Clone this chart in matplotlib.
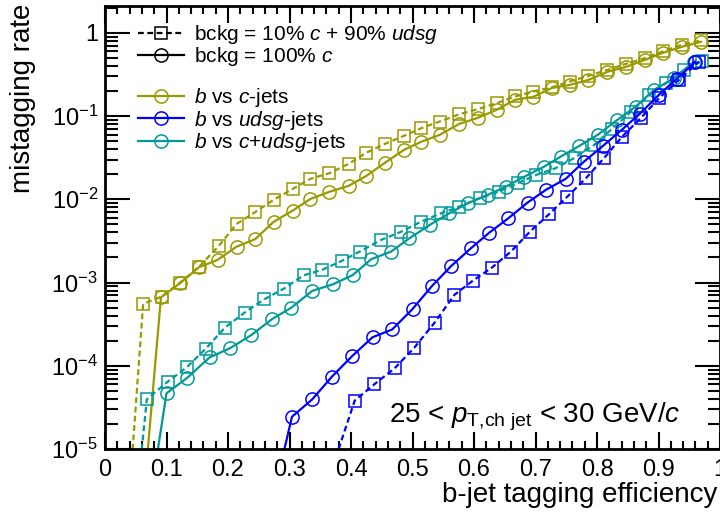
import math

import matplotlib.pyplot as plt
from matplotlib.lines import Line2D
from matplotlib.ticker import FixedLocator, FuncFormatter, LogLocator, MultipleLocator, NullFormatter

plt.rcParams["font.family"] = ["Liberation Sans", "DejaVu Sans"]
plt.rcParams["mathtext.fontset"] = "custom"
plt.rcParams["mathtext.rm"] = "Liberation Sans"
plt.rcParams["mathtext.it"] = "Liberation Sans:italic"
plt.rcParams["mathtext.bf"] = "Liberation Sans:bold"

OLIVE = "#999900"
BLUE = "#0000ff"
TEAL = "#009999"

# b vs c-jets
eff_c_mix = [0.032, 0.062, 0.092, 0.122, 0.153, 0.185, 0.214, 0.244, 0.274, 0.305, 0.334,
             0.365, 0.396, 0.425, 0.455, 0.486, 0.514, 0.544, 0.576, 0.606, 0.637, 0.667,
             0.696, 0.727, 0.756, 0.786, 0.817, 0.847, 0.878, 0.907, 0.938, 0.969]
mis_c_mix = [4.7e-7, 5.53e-4, 6.78e-4, 9.98e-4, 1.55e-3, 2.75e-3, 5.06e-3, 7.0e-3, 9.84e-3,
             1.33e-2, 1.76e-2, 2.06e-2, 2.66e-2, 3.63e-2, 4.63e-2, 5.78e-2, 7.14e-2, 8.59e-2,
             0.105, 0.121, 0.143, 0.172, 0.197, 0.222, 0.260, 0.304, 0.359, 0.424, 0.497,
             0.597, 0.718, 0.809]
eff_c_charm = [0.062, 0.091, 0.122, 0.153, 0.183, 0.214, 0.244, 0.274, 0.305, 0.334, 0.365,
               0.396, 0.425, 0.455, 0.486, 0.514, 0.544, 0.576, 0.606, 0.637, 0.667, 0.696,
               0.727, 0.756, 0.786, 0.817, 0.847, 0.878, 0.907, 0.938, 0.969]
mis_c_charm = [2.2e-6, 6.65e-4, 9.8e-4, 1.53e-3, 1.87e-3, 2.70e-3, 3.31e-3, 5.35e-3, 7.31e-3,
               1.01e-2, 1.23e-2, 1.45e-2, 1.91e-2, 2.74e-2, 3.92e-2, 4.90e-2, 5.94e-2, 8.05e-2,
               9.5e-2, 0.119, 0.157, 0.170, 0.218, 0.237, 0.272, 0.340, 0.390, 0.473, 0.575,
               0.679, 0.780]

# b vs udsg-jets
eff_l_mix = [0.375, 0.406, 0.438, 0.471, 0.503, 0.536, 0.568, 0.598, 0.629, 0.660, 0.691,
             0.722, 0.752, 0.782, 0.812, 0.841, 0.871, 0.901, 0.933, 0.966]
mis_l_mix = [7.8e-6, 3.81e-5, 6.0e-5, 9.33e-5, 1.65e-4, 3.30e-4, 7.10e-4, 1.05e-3, 1.51e-3,
             2.35e-3, 4.09e-3, 6.62e-3, 1.08e-2, 1.79e-2, 3.16e-2, 5.68e-2, 9.42e-2, 0.164,
             0.272, 0.452]
eff_l_charm = [0.271, 0.304, 0.337, 0.369, 0.402, 0.435, 0.467, 0.500, 0.532, 0.563, 0.595,
               0.625, 0.656, 0.687, 0.717, 0.749, 0.779, 0.810, 0.840, 0.870, 0.900, 0.930,
               0.960]
mis_l_charm = [2.2e-6, 2.44e-5, 3.95e-5, 7.40e-5, 1.31e-4, 2.20e-4, 2.73e-4, 4.80e-4, 9.14e-4,
               1.58e-3, 2.58e-3, 3.98e-3, 5.93e-3, 9.12e-3, 1.30e-2, 1.76e-2, 2.84e-2, 4.4e-2,
               6.8e-2, 0.107, 0.178, 0.282, 0.447]

# b vs c+udsg-jets
eff_cl_mix = [0.037, 0.068, 0.102, 0.133, 0.164, 0.195, 0.227, 0.259, 0.291, 0.323, 0.353,
              0.385, 0.414, 0.449, 0.482, 0.514, 0.547, 0.576, 0.609, 0.641, 0.671, 0.701,
              0.733, 0.764, 0.795, 0.825, 0.855, 0.885, 0.912, 0.942, 0.970]
mis_cl_mix = [2.2e-7, 3.95e-5, 6.44e-5, 9.59e-5, 1.61e-4, 2.87e-4, 4.35e-4, 6.30e-4, 8.45e-4,
              1.22e-3, 1.42e-3, 1.82e-3, 2.35e-3, 3.25e-3, 4.09e-3, 5.40e-3, 6.81e-3, 8.17e-3,
              1.03e-2, 1.24e-2, 1.56e-2, 1.96e-2, 2.37e-2, 3.16e-2, 4.47e-2, 7.08e-2, 0.112,
              0.178, 0.248, 0.359, 0.457]
eff_cl_charm = [0.067, 0.100, 0.134, 0.170, 0.203, 0.238, 0.272, 0.303, 0.337, 0.371, 0.403,
                0.433, 0.465, 0.495, 0.528, 0.560, 0.590, 0.622, 0.652, 0.682, 0.714, 0.741,
                0.771, 0.801, 0.833, 0.863, 0.893, 0.925, 0.958]
mis_cl_charm = [1.2e-6, 4.67e-5, 7.19e-5, 1.26e-4, 1.62e-4, 2.34e-4, 3.65e-4, 4.99e-4, 7.93e-4,
                9.55e-4, 1.23e-3, 1.91e-3, 2.35e-3, 3.40e-3, 4.92e-3, 6.81e-3, 8.97e-3, 1.13e-2,
                1.42e-2, 1.87e-2, 2.47e-2, 3.26e-2, 4.37e-2, 5.94e-2, 8.99e-2, 0.130, 0.207,
                0.285, 0.452]

y_ticks = [1e-5, 1e-4, 1e-3, 1e-2, 1e-1, 1]
x_ticks = [0, 0.1, 0.2, 0.3, 0.4, 0.5, 0.6, 0.7, 0.8, 0.9, 1.0]

series = [
    (eff_c_mix, mis_c_mix, eff_c_charm, mis_c_charm, OLIVE),
    (eff_cl_mix, mis_cl_mix, eff_cl_charm, mis_cl_charm, TEAL),
    (eff_l_mix, mis_l_mix, eff_l_charm, mis_l_charm, BLUE),
]


def y_label(v, pos):
    if v == 1:
        return "1"
    return rf"$10^{{{int(round(math.log10(v)))}}}$"


fig = plt.figure(figsize=(7.2, 5.23), dpi=100)
ax = fig.add_axes([105 / 720, 74 / 523, 615 / 720, 443 / 523])

dash = (0, (2.6, 1.6))
for x_mix, y_mix, x_charm, y_charm, color in series:
    ax.plot(x_mix, y_mix, linestyle=dash, lw=1.6, color=color, marker="s", ms=9,
            mfc="none", mec=color, mew=1.1)
    ax.plot(x_charm, y_charm, linestyle="-", lw=1.6, color=color, marker="o", ms=9.5,
            mfc="none", mec=color, mew=1.1)

ax.set_yscale("log")
ax.set_xlim(0, 1.0)
ax.set_ylim(1e-5, 2.1)

ax.xaxis.set_major_locator(FixedLocator(x_ticks))
ax.xaxis.set_minor_locator(MultipleLocator(0.02))
ax.xaxis.set_major_formatter(FuncFormatter(lambda v, p: f"{v:g}"))
ax.yaxis.set_major_locator(FixedLocator(y_ticks))
ax.yaxis.set_minor_locator(LogLocator(base=10, subs=range(2, 10), numticks=20))
ax.yaxis.set_minor_formatter(NullFormatter())
ax.yaxis.set_major_formatter(FuncFormatter(y_label))

ax.tick_params(which="both", direction="in", top=True, right=True, width=1.5, labelsize=17)
ax.tick_params(axis="x", which="major", length=12, pad=7)
ax.tick_params(axis="x", which="minor", length=6)
ax.tick_params(axis="y", which="major", length=18, pad=5)
ax.tick_params(axis="y", which="minor", length=9)
for sp in ax.spines.values():
    sp.set_linewidth(2)

ax.set_xlabel("b-jet tagging efficiency", fontsize=20, ha="right")
ax.xaxis.set_label_coords(0.995, -0.075)
ax.set_ylabel("mistagging rate", fontsize=20, ha="right")
ax.yaxis.set_label_coords(-0.112, 1.005)

handles = [
    Line2D([], [], color="black", linestyle=dash, lw=1.6, marker="s", ms=9, mfc="none", mew=1.1),
    Line2D([], [], color="black", linestyle="-", lw=1.6, marker="o", ms=9.5, mfc="none", mew=1.1),
    Line2D([], [], linestyle="none"),
    Line2D([], [], color=OLIVE, lw=1.6, marker="o", ms=9.5, mfc="none", mew=1.1),
    Line2D([], [], color=BLUE, lw=1.6, marker="o", ms=9.5, mfc="none", mew=1.1),
    Line2D([], [], color=TEAL, lw=1.6, marker="o", ms=9.5, mfc="none", mew=1.1),
]
labels = [
    r"bckg = 10% $c$ + 90% $udsg$",
    r"bckg = 100% $c$",
    "",
    r"$b$ vs $c$-jets",
    r"$b$ vs $udsg$-jets",
    r"$b$ vs $c$+$udsg$-jets",
]
ax.legend(handles, labels, loc="upper left", bbox_to_anchor=(0.037, 0.985), frameon=False,
          fontsize=15, handlelength=2.2, handletextpad=0.5, labelspacing=-0.03, borderpad=0)

ax.text(0.935, 0.06, r"25 < $p_{\mathrm{T{,}ch\ jet}}$ < 30 GeV/$c$", transform=ax.transAxes,
        fontsize=20, ha="right", va="baseline")

fig.savefig("out.png", dpi=100)
